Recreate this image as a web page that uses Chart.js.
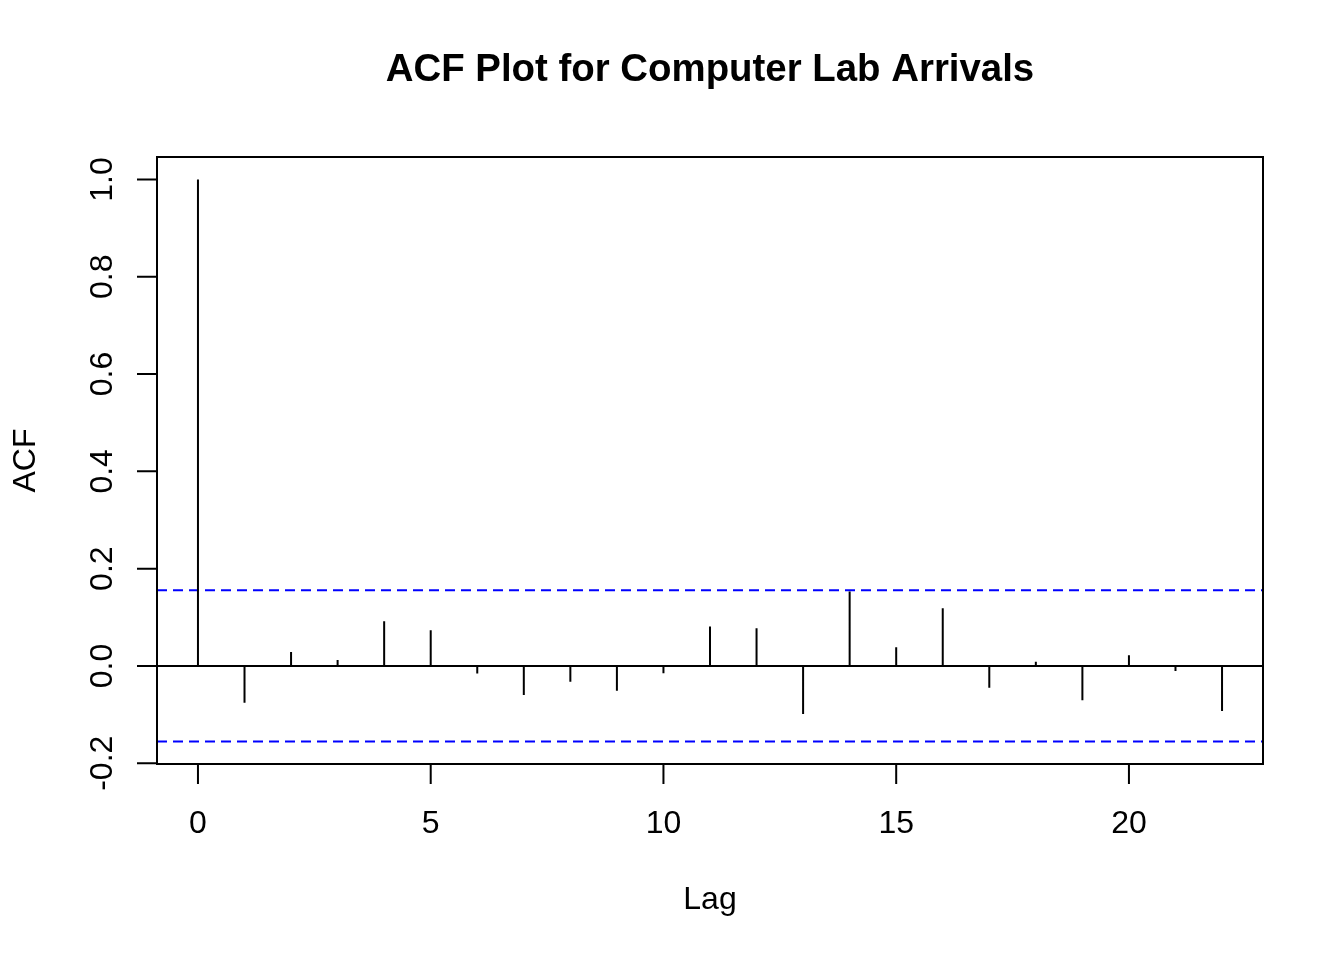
<!DOCTYPE html>
<html>
<head>
<meta charset="utf-8">
<script src="https://cdn.jsdelivr.net/npm/chart.js@4/dist/chart.umd.min.js"></script>
<style>
  html, body { margin: 0; padding: 0; background: #ffffff; }
  #wrap { width: 1344px; height: 960px; }
</style>
</head>
<body>
<div id="wrap"><canvas id="c" width="1344" height="960"></canvas></div>
<script>
// ---- data ----
const lags = [0,1,2,3,4,5,6,7,8,9,10,11,12,13,14,15,16,17,18,19,20,21,22];
const acfValues = [1.0,-0.0755,0.0288,0.0123,0.092,0.0735,-0.0158,-0.0597,-0.0323,-0.0508,-0.015,
                   0.0809,0.0776,-0.0988,0.1529,0.0385,0.1187,-0.0447,0.0088,-0.0706,0.022,-0.0103,-0.0926];
const confLimit = 0.1554;
const xTicks = [0,5,10,15,20];
const yTicks = [-0.2,0.0,0.2,0.4,0.6,0.8,1.0];
const yTickLabels = ["-0.2","0.0","0.2","0.4","0.6","0.8","1.0"];
const titleText = "ACF Plot for Computer Lab Arrivals";
const xTitle = "Lag";
const yTitle = "ACF";

// axis ranges (R style 4% extension)
const xMin = -0.88, xMax = 22.88;
const yMin = -0.2016, yMax = 1.0462;

const spikeData = [];
lags.forEach((l, i) => {
  spikeData.push({x: l, y: 0});
  spikeData.push({x: l, y: acfValues[i]});
  spikeData.push({x: l, y: null});
});

const FONT = '"Liberation Sans", Arial, Helvetica, sans-serif';

const rAxes = {
  id: 'rAxes',
  afterDraw(chart) {
    const ctx = chart.ctx;
    const a = chart.chartArea;
    const xs = chart.scales.x, ys = chart.scales.y;
    ctx.save();
    ctx.strokeStyle = '#000';
    ctx.lineWidth = 2;
    ctx.lineCap = 'butt';
    // box
    ctx.strokeRect(a.left, a.top, a.right - a.left, a.bottom - a.top);
    // x ticks
    ctx.beginPath();
    xTicks.forEach(t => {
      const px = xs.getPixelForValue(t);
      ctx.moveTo(px, a.bottom);
      ctx.lineTo(px, a.bottom + 20);
    });
    // y ticks
    yTicks.forEach(t => {
      const py = ys.getPixelForValue(t);
      ctx.moveTo(a.left, py);
      ctx.lineTo(a.left - 20, py);
    });
    ctx.stroke();

    ctx.fillStyle = '#000';
    ctx.font = '32px ' + FONT;
    ctx.textAlign = 'center';
    ctx.textBaseline = 'alphabetic';
    xTicks.forEach(t => {
      ctx.fillText(String(t), xs.getPixelForValue(t), 833);
    });
    yTicks.forEach((t, i) => {
      ctx.save();
      ctx.translate(112, ys.getPixelForValue(t));
      ctx.rotate(-Math.PI / 2);
      ctx.fillText(yTickLabels[i], 0, 0);
      ctx.restore();
    });
    // axis titles
    const cx = (a.left + a.right) / 2;
    const cy = (a.top + a.bottom) / 2;
    ctx.fillText(xTitle, cx, 909);
    ctx.save();
    ctx.translate(35, cy);
    ctx.rotate(-Math.PI / 2);
    ctx.fillText(yTitle, 0, 0);
    ctx.restore();
    // main title
    ctx.font = 'bold 38.4px ' + FONT;
    ctx.fillText(titleText, cx, 81);
    ctx.restore();
  }
};

new Chart(document.getElementById('c'), {
  type: 'line',
  data: {
    datasets: [
      {
        label: 'ACF',
        data: spikeData,
        borderColor: '#000000',
        borderWidth: 2,
        pointRadius: 0,
        spanGaps: false,
        fill: false,
        tension: 0
      },
      {
        label: 'zero',
        data: [{x: xMin, y: 0}, {x: xMax, y: 0}],
        borderColor: '#000000',
        borderWidth: 2,
        pointRadius: 0,
        fill: false
      },
      {
        label: 'upper',
        data: [{x: xMin, y: confLimit}, {x: xMax, y: confLimit}],
        borderColor: '#0000ff',
        borderWidth: 2,
        borderDash: [10, 6],
        pointRadius: 0,
        fill: false
      },
      {
        label: 'lower',
        data: [{x: xMin, y: -confLimit}, {x: xMax, y: -confLimit}],
        borderColor: '#0000ff',
        borderWidth: 2,
        borderDash: [10, 6],
        pointRadius: 0,
        fill: false
      }
    ]
  },
  options: {
    responsive: false,
    animation: false,
    devicePixelRatio: 1,
    layout: { padding: { left: 157, right: 81, top: 157, bottom: 196 } },
    plugins: { legend: { display: false }, title: { display: false }, tooltip: { enabled: false } },
    scales: {
      x: { type: 'linear', min: xMin, max: xMax, display: false },
      y: { type: 'linear', min: yMin, max: yMax, display: false }
    }
  },
  plugins: [rAxes]
});
</script>
</body>
</html>
